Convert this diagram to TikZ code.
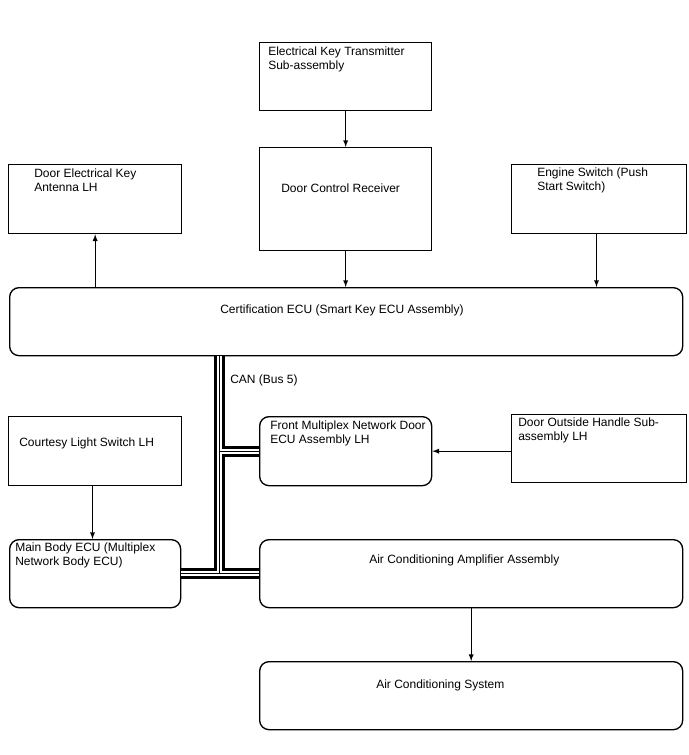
\documentclass[tikz,border=0pt]{standalone}
\usepackage{fontspec}
\setmainfont{Liberation Sans}
\usetikzlibrary{arrows}

\tikzset{
  box/.style={draw, line width=1pt, inner sep=0pt, anchor=north west},
  rbox/.style={box, rounded corners=7pt},
  boxsize/.style 2 args={minimum width=#1*0.75pt, minimum height=#2*0.75pt},
  txt/.style={inner sep=0pt, anchor=north west, align=left, font=\fontsize{9}{10.5}\selectfont},
  link/.style={->, line width=0.75pt},
  canbus/.style={draw, line width=8pt, postaction={draw=white, line width=3.9pt}, postaction={draw=black, line width=0.75pt}}
}

\begin{document}
\begin{tikzpicture}[x=0.75pt,y=-0.75pt,>=latex]
\useasboundingbox [fill=white] (0,0) rectangle (688,755);

\node [box, boxsize={172}{68}] (tx) at (259,42) {};
\node [box, boxsize={172}{103}] (dcr) at (259,147) {};
\node [box, boxsize={173}{69}] (antenna) at (8,164) {};
\node [box, boxsize={175}{69}] (engine) at (511,164) {};
\node [rbox, boxsize={673}{68}] (cert) at (9,287) {};
\node [box, boxsize={173}{69}] (courtesy) at (8,416) {};
\node [rbox, boxsize={172}{69}] (fmdoor) at (259,416) {};
\node [box, boxsize={175}{68}] (handle) at (511,414) {};
\node [rbox, boxsize={171}{68}] (mainbody) at (9,539) {};
\node [rbox, boxsize={423}{68}] (acamp) at (259,539) {};
\node [rbox, boxsize={423}{68}] (acsys) at (259,661) {};

\node [txt] (txL) at (268,47) {Electrical Key Transmitter\\Sub-assembly};
\node [txt] (dcrL) at (281,184) {Door Control Receiver};
\node [txt] (antennaL) at (34,169) {Door Electrical Key\\Antenna LH};
\node [txt] (engineL) at (537,168) {Engine Switch (Push\\Start Switch)};
\node [txt] (certL) at (220,305) {Certification ECU (Smart Key ECU Assembly)};
\node [txt] (courtesyL) at (19,438) {Courtesy Light Switch LH};
\node [txt] (fmdoorL) at (270,421) {Front Multiplex Network Door\\ECU Assembly LH};
\node [txt] (handleL) at (518,418) {Door Outside Handle Sub-\\assembly LH};
\node [txt] (mainbodyL) at (15,543) {Main Body ECU (Multiplex\\Network Body ECU)};
\node [txt] (acampL) at (369,555) {Air Conditioning Amplifier Assembly};
\node [txt] (acsysL) at (376,680) {Air Conditioning System};
\node [txt] (canL) at (230,375) {CAN (Bus 5)};

\draw [link] (tx) -- (dcr);
\draw [link] (dcr) -- (dcr.south |- cert.north);
\draw [link] (antenna.south |- cert.north) -- (antenna);
\draw [link] ([xshift=-2pt]engine.south) -- ([xshift=-2pt]engine.south |- cert.north);
\draw [link] ([xshift=-2pt]courtesy.south) -- ([xshift=-2pt]courtesy.south |- mainbody.north);
\draw [link] (handle.west |- fmdoor.east) -- (fmdoor);
\draw [link] (acamp) -- (acamp.south |- acsys.north);

\coordinate (canx) at (219.5,0);
\draw [canbus] (cert.south -| canx) -- (canx |- mainbody.east)
  (canx |- fmdoor.west) -- (fmdoor.west)
  (mainbody.east) -- (acamp.west);
\end{tikzpicture}
\end{document}
